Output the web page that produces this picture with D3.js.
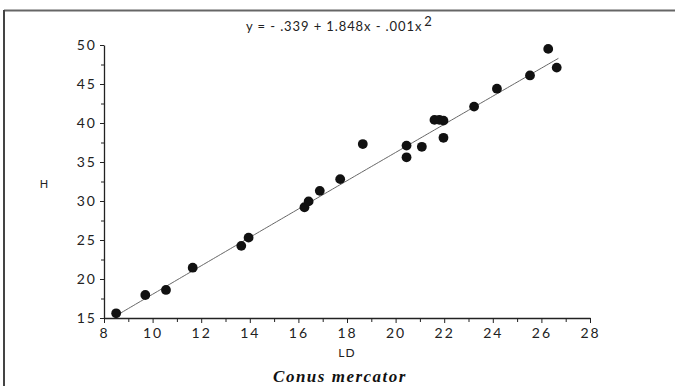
<!DOCTYPE html>
<html>
<head>
<meta charset="utf-8">
<script src="https://cdn.jsdelivr.net/npm/d3@7"></script>
<style>
  html, body { margin: 0; padding: 0; background: #fff; }
  svg { display: block; }
  .tick text { font-family: Lato, "Open Sans", sans-serif; fill: #222; }
</style>
</head>
<body>
<svg id="chart" width="675" height="386"></svg>
<script>
// Data
const LD = [8.5, 9.7, 10.55, 11.65, 13.65, 13.95, 16.25, 16.42, 16.88, 17.72, 18.65, 20.45, 20.45, 21.08, 21.6, 21.8, 21.97, 21.97, 23.23, 24.17, 25.53, 26.28, 26.63];
const H  = [15.6, 17.95, 18.6, 21.45, 24.25, 25.3, 29.2, 29.95, 31.3, 32.8, 37.3, 37.1, 35.6, 36.95, 40.4, 40.4, 40.3, 38.1, 42.1, 44.4, 46.1, 49.5, 47.1];
const xTicks = [8, 10, 12, 14, 16, 18, 20, 22, 24, 26, 28];
const xMinor = [9, 11, 13, 15, 17, 19, 21, 23, 25, 27];
const yTicks = [15, 20, 25, 30, 35, 40, 45, 50];
const yMinor = [17.5, 22.5, 27.5, 32.5, 37.5, 42.5, 47.5];
const coef = [-0.339, 1.848, -0.001];
const fitRange = [8.5, 26.7];

const svg = d3.select("#chart");
const x = d3.scaleLinear().domain([8, 28]).range([104, 590]);
const y = d3.scaleLinear().domain([15, 50]).range([318, 45]);

// frame lines
svg.append("line").attr("x1", 4).attr("x2", 675).attr("y1", 10.5).attr("y2", 10.5)
  .attr("stroke", "#666").attr("stroke-width", 2);
svg.append("line").attr("x1", 4).attr("x2", 4).attr("y1", 10).attr("y2", 386)
  .attr("stroke", "#444").attr("stroke-width", 2);

// axes
const gx = svg.append("g").attr("transform", `translate(0,${y(15)})`)
  .call(d3.axisBottom(x).tickValues(xTicks).tickSize(5).tickSizeOuter(0).tickPadding(5));
svg.append("g").attr("transform", `translate(0,${y(15)})`)
  .call(d3.axisBottom(x).tickValues(xMinor).tickSize(4).tickFormat(""))
  .select(".domain").remove();
const gy = svg.append("g").attr("transform", `translate(${x(8)},0)`)
  .call(d3.axisLeft(y).tickValues(yTicks).tickSize(4).tickSizeOuter(0).tickPadding(3));
svg.append("g").attr("transform", `translate(${x(8)},0)`)
  .call(d3.axisLeft(y).tickValues(yMinor).tickSize(3).tickFormat(""))
  .select(".domain").remove();

svg.selectAll(".domain").attr("stroke", "#222").attr("stroke-width", 1.3);
svg.selectAll(".tick line").attr("stroke", "#222");
gx.selectAll(".tick text").attr("font-size", 14).attr("letter-spacing", "2px");
gy.selectAll(".tick text").attr("font-size", 14).attr("letter-spacing", "2px");

// fit curve
const fx = d3.range(fitRange[0], fitRange[1] + 0.001, 0.1);
const line = d3.line().x(d => x(d)).y(d => y(coef[0] + coef[1] * d + coef[2] * d * d));
svg.append("path").datum(fx).attr("d", line)
  .attr("fill", "none").attr("stroke", "#666").attr("stroke-width", 1);

// points
svg.append("g").selectAll("circle").data(LD).join("circle")
  .attr("cx", (d) => x(d)).attr("cy", (d, i) => y(H[i])).attr("r", 4.9).attr("fill", "#111");

// texts
const title = svg.append("text").attr("x", 246).attr("y", 31)
  .attr("font-family", "Lato, 'Open Sans', sans-serif").attr("font-size", 13).attr("letter-spacing", "0.9px").attr("fill", "#222");
title.append("tspan").text("y = - .339 + 1.848x  -  .001x");
title.append("tspan").attr("dx", 2).attr("dy", -5).attr("font-size", 13).text("2");

svg.append("text").attr("x", 44).attr("y", 188).attr("text-anchor", "middle")
  .attr("font-family", "Lato, 'Open Sans', sans-serif").attr("font-size", 11).attr("fill", "#222").text("H");
svg.append("text").attr("x", 347).attr("y", 357).attr("text-anchor", "middle")
  .attr("font-family", "Lato, 'Open Sans', sans-serif").attr("font-size", 12).attr("letter-spacing", "1px").attr("fill", "#222").text("LD");
svg.append("text").attr("x", 340).attr("y", 382).attr("text-anchor", "middle")
  .attr("font-family", "'Liberation Serif', serif").attr("font-style", "italic").attr("font-weight", "bold").attr("font-size", 17)
  .attr("letter-spacing", "1.5px").attr("fill", "#111").text("Conus mercator");
</script>
</body>
</html>
